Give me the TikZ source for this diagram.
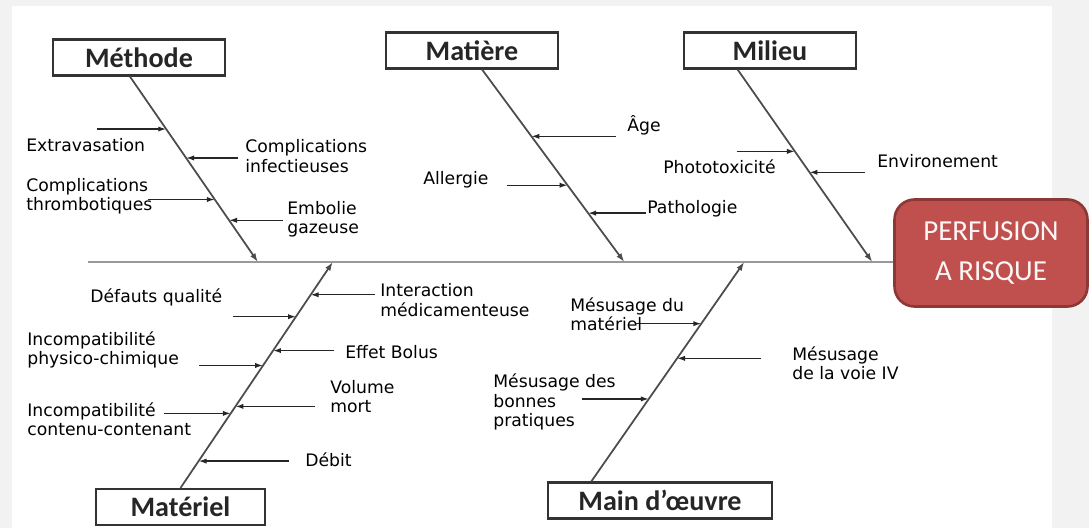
\documentclass[tikz,border=0pt]{standalone}
\usepackage{fontspec}
\setmainfont{DejaVu Sans}
\newfontfamily\titlefont{Carlito}
\usetikzlibrary{arrows.meta}
\usetikzlibrary{calc}
\usetikzlibrary{positioning}
\definecolor{bggray}{HTML}{F2F2F2}
\definecolor{perfred}{HTML}{C0504D}
\definecolor{perfborder}{HTML}{8C3836}
\tikzset{
  titlebox/.style={draw=black!80, line width=1.2pt, fill=white, inner sep=0pt,
    minimum width=3.44cm, minimum height=0.72cm, text=black!85,
    font=\titlefont\bfseries\fontsize{16}{18}\selectfont},
  effectbox/.style={draw=perfborder, line width=1.5pt, fill=perfred, rounded corners=0.4cm,
    minimum width=3.86cm, minimum height=2.14cm, align=center, text=white!95!perfred,
    font=\titlefont\fontsize{16.5}{23}\selectfont},
  spine/.style={draw=black!40, line width=1.6pt},
  bone/.style={draw=black!70, line width=1pt, -{Latex[length=5pt,width=3.5pt]}},
  cause/.style={draw=black!85, line width=0.8pt, -{Latex[length=4.5pt,width=3pt]}},
  lbl/.style={anchor=west, align=left, inner sep=0pt, text=black,
    font=\fontsize{9.8}{11}\selectfont},
}

\begin{document}
\begin{tikzpicture}[x=0.02cm, y=-0.02cm]
  \useasboundingbox (0,0) rectangle (1089,528);
  \fill[bggray] (0,0) rectangle (1089,528);
  \fill[white] (12,6) rectangle (1052,528);

  % categories and effect
  \node[titlebox] (met) at (139,57.5) {Méthode};
  \node[titlebox] (mat) at (472,50.5) {Matière};
  \node[titlebox] (mil) at (770,50.5) {Milieu};
  \node[titlebox, minimum width=3.38cm] (mtl) at (180.5,507) {Matériel};
  \node[titlebox, minimum width=4.48cm] (mdo) at (660,500.5) {Main d’œuvre};
  \node[effectbox] (perf) at (991,253) {PERFUSION\\A RISQUE};

  % spine
  \coordinate (tail) at (88,262);
  \coordinate (head) at (tail -| perf.west);
  \draw[spine] (tail) -- (head);

  % bones
  \coordinate (mthA) at ($(met.south west)!0.448!(met.south east)$);
  \coordinate (mthB) at ($(tail)!0.211!(head)$);
  \coordinate (matA) at ($(mat.south west)!0.558!(mat.south east)$);
  \coordinate (matB) at ($(tail)!0.666!(head)$);
  \coordinate (milA) at ($(mil.south west)!0.314!(mil.south east)$);
  \coordinate (milB) at ($(tail)!0.974!(head)$);
  \coordinate (mtlA) at (mtl.north);
  \coordinate (mtlB) at ($(tail)!0.304!(head)$);
  \coordinate (mdoA) at ($(mdo.north west)!0.196!(mdo.north east)$);
  \coordinate (mdoB) at ($(tail)!0.815!(head)$);
  \draw[bone] (mthA) -- (mthB);
  \draw[bone] (matA) -- (matB);
  \draw[bone] (milA) -- (milB);
  \draw[bone] (mtlA) -- (mtlB);
  \draw[bone] (mdoA) -- (mdoB);

  % Methode
  \coordinate (m1) at ($(mthA)!0.283!(mthB)$);
  \coordinate (m2) at ($(mthA)!0.439!(mthB)$);
  \coordinate (m3) at ($(mthA)!0.663!(mthB)$);
  \coordinate (m4) at ($(mthA)!0.775!(mthB)$);
  \draw[cause] ($(m1)+(-69,0)$) -- (m1);
  \draw[cause] ($(m2)+(52,0)$) -- (m2);
  \draw[cause] ($(m3)+(-67,0)$) -- (m3);
  \draw[cause] ($(m4)+(54,0)$) -- (m4);
  \node[lbl] (extra) at (26,145) {Extravasation};
  \node[lbl] (infec) at (245,156) {Complications\\infectieuses};
  \node[lbl] (thromb) at (26,196.5) {Complications\\thrombotiques};
  \node[lbl] (embol) at (287,219) {Embolie\\gazeuse};

  % Matiere
  \coordinate (a1) at ($(matA)!0.347!(matB)$);
  \coordinate (a2) at ($(matA)!0.601!(matB)$);
  \coordinate (a3) at ($(matA)!0.746!(matB)$);
  \draw[cause] ($(a1)+(85,0)$) -- (a1);
  \draw[cause] ($(a2)+(-61,0)$) -- (a2);
  \draw[cause] ($(a3)+(58,0)$) -- (a3);
  \node[lbl] (age) at (627,125) {Âge};
  \node[lbl] (allerg) at (423,180) {Allergie};
  \node[lbl] (patho) at (647,209) {Pathologie};

  % Milieu
  \coordinate (e1) at ($(milA)!0.425!(milB)$);
  \coordinate (e2) at ($(milA)!0.534!(milB)$);
  \draw[cause] ($(e1)+(-58,0)$) -- (e1);
  \draw[cause] ($(e2)+(55,0)$) -- (e2);
  \node[lbl] (photo) at (663,167) {Phototoxicité};
  \node[lbl] (envir) at (877,161) {Environement};

  % Materiel
  \coordinate (t1) at ($(mtlA)!0.855!(mtlB)$);
  \coordinate (t2) at ($(mtlA)!0.758!(mtlB)$);
  \coordinate (t3) at ($(mtlA)!0.608!(mtlB)$);
  \coordinate (t4) at ($(mtlA)!0.542!(mtlB)$);
  \coordinate (t5) at ($(mtlA)!0.361!(mtlB)$);
  \coordinate (t6) at ($(mtlA)!0.330!(mtlB)$);
  \coordinate (t7) at ($(mtlA)!0.119!(mtlB)$);
  \draw[cause] ($(t1)+(64,0)$) -- (t1);
  \draw[cause] ($(t2)+(-63,0)$) -- (t2);
  \draw[cause] ($(t3)+(61,0)$) -- (t3);
  \draw[cause] ($(t4)+(-64,0)$) -- (t4);
  \draw[cause] ($(t5)+(80,0)$) -- (t5);
  \draw[cause] ($(t6)+(-67,0)$) -- (t6);
  \draw[cause] ($(t7)+(90,0)$) -- (t7);
  \node[lbl] (interac) at (380,300) {Interaction\\médicamenteuse};
  \node[lbl] (defaut) at (90,297) {Défauts qualité};
  \node[lbl] (bolus) at (345,352) {Effet Bolus};
  \node[lbl] (physico) at (27,350) {Incompatibilité\\physico-chimique};
  \node[lbl] (volume) at (330,396.5) {Volume\\mort};
  \node[lbl] (contenu) at (27,419) {Incompatibilité\\contenu-contenant};
  \node[lbl] (debit) at (305,460) {Débit};

  % Main d'oeuvre
  \coordinate (o1) at ($(mdoA)!0.719!(mdoB)$);
  \coordinate (o2) at ($(mdoA)!0.561!(mdoB)$);
  \coordinate (o3) at ($(mdoA)!0.376!(mdoB)$);
  \draw[cause] ($(o1)+(-65,0)$) -- (o1);
  \draw[cause] ($(o2)+(84,0)$) -- (o2);
  \draw[cause] ($(o3)+(-67,0)$) -- (o3);
  \node[lbl] (mmat) at (570,314) {Mésusage du\\matériel};
  \node[lbl] (mvoie) at (792,363) {Mésusage\\de la voie IV};
  \node[lbl] (mprat) at (493,402) {Mésusage des\\bonnes\\pratiques};
\end{tikzpicture}
\end{document}
